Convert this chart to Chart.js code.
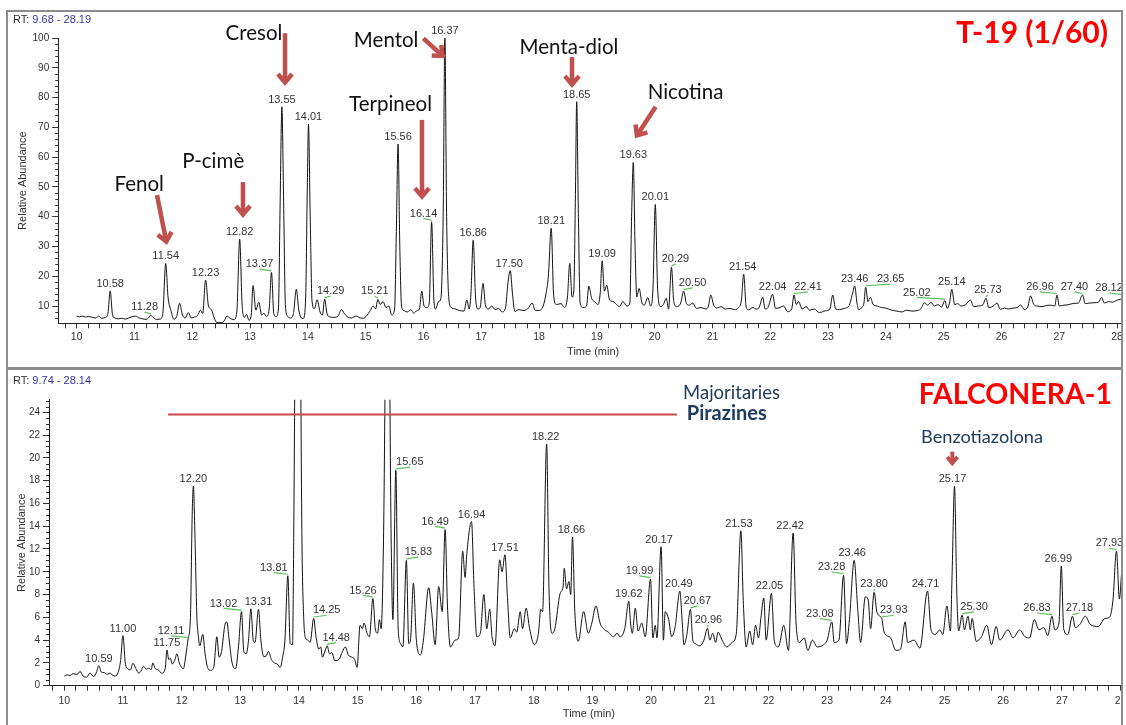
<!DOCTYPE html>
<html>
<head>
<meta charset="utf-8">
<title>T-19 (1/60) / FALCONERA-1</title>
<script src="https://cdn.jsdelivr.net/npm/chart.js@4.4.1/dist/chart.umd.min.js"></script>
<style>
  html, body { margin: 0; padding: 0; background: #fff; }
  #page { position: relative; width: 1126px; height: 725px; overflow: hidden; }
  #clip { position: absolute; left: 0; top: 0; width: 1121px; height: 725px; overflow: hidden; }
  canvas { position: absolute; left: 0; }
  .panel { position: absolute; box-sizing: border-box; border: 2px solid #8c8c8c; pointer-events: none; }
</style>
</head>
<body>
<div id="page">
  <div id="clip">
    <canvas id="t19" width="1140" height="368" style="top:0"></canvas>
    <canvas id="fal" width="1140" height="357" style="top:368px"></canvas>
  </div>
  <div class="panel" style="left:6px;top:10px;width:1117px;height:360px"></div>
  <div class="panel" style="left:6px;top:367px;width:1117px;height:380px"></div>
</div>
<script>
// ---------------- T-19 (1/60) chromatogram ----------------
const t19Time = [
 10.00,10.05,10.10,10.15,10.20,10.27,10.33,10.38,10.43,10.50,10.54,10.58,10.62,10.66,10.72,10.78,10.84,10.90,10.96,11.02,
 11.08,11.14,11.20,11.24,11.28,11.32,11.38,11.44,11.49,11.54,11.58,11.63,11.68,11.73,11.78,11.83,11.88,11.93,11.98,12.04,
 12.09,12.14,12.18,12.23,12.28,12.33,12.38,12.42,12.50,12.55,12.60,12.66,12.72,12.77,12.82,12.86,12.90,12.94,12.98,13.02,
 13.05,13.10,13.15,13.20,13.24,13.28,13.33,13.37,13.41,13.45,13.49,13.52,13.55,13.58,13.61,13.65,13.70,13.75,13.80,13.84,
 13.88,13.92,13.96,13.99,14.01,14.04,14.07,14.11,14.16,14.21,14.25,14.29,14.33,14.37,14.45,14.52,14.58,14.63,14.68,14.75,
 14.84,14.90,14.96,15.02,15.08,15.13,15.17,15.21,15.25,15.30,15.35,15.40,15.45,15.50,15.53,15.56,15.59,15.62,15.66,15.72,
 15.78,15.83,15.89,15.93,15.97,16.01,16.06,16.10,16.14,16.18,16.21,16.26,16.30,16.34,16.37,16.40,16.44,16.48,16.55,16.62,
 16.70,16.75,16.79,16.82,16.86,16.90,16.94,16.98,17.03,17.07,17.12,17.18,17.24,17.30,17.36,17.42,17.46,17.50,17.54,17.58,
 17.65,17.72,17.80,17.88,17.93,18.00,18.07,18.12,18.16,18.21,18.25,18.30,18.38,18.44,18.49,18.53,18.57,18.60,18.63,18.65,
 18.68,18.71,18.76,18.82,18.86,18.91,18.96,19.02,19.06,19.09,19.13,19.17,19.22,19.28,19.34,19.39,19.45,19.52,19.57,19.60,
 19.63,19.66,19.69,19.73,19.78,19.82,19.88,19.93,19.97,20.01,20.05,20.10,20.15,20.20,20.24,20.29,20.33,20.38,20.45,20.50,
 20.55,20.60,20.66,20.72,20.80,20.88,20.93,20.97,21.02,21.08,21.15,21.22,21.30,21.38,21.45,21.50,21.54,21.58,21.62,21.70,
 21.75,21.80,21.87,21.91,21.96,22.04,22.09,22.15,22.23,22.30,22.37,22.41,22.45,22.49,22.55,22.62,22.68,22.76,22.85,22.95,
 23.03,23.08,23.13,23.20,23.28,23.36,23.42,23.46,23.50,23.53,23.58,23.62,23.65,23.69,23.73,23.78,23.85,23.92,24.00,24.10,
 24.19,24.28,24.35,24.45,24.52,24.60,24.67,24.72,24.78,24.84,24.90,24.96,25.02,25.06,25.10,25.14,25.19,25.24,25.30,25.38,
 25.46,25.52,25.60,25.68,25.73,25.78,25.86,25.92,25.98,26.05,26.12,26.20,26.27,26.33,26.40,26.46,26.50,26.56,26.62,26.70,
 26.78,26.85,26.92,26.96,27.00,27.08,27.15,27.25,27.33,27.40,27.45,27.52,27.60,27.68,27.73,27.78,27.85,27.92,28.00,28.06,
 28.12,28.19
];
const t19Abund = [
 6.6,6.4,6.6,6.3,6.5,6.2,6.0,6.6,5.9,6.2,7.5,15.1,7.0,6.0,5.7,5.9,5.6,6.0,6.4,6.6,
 6.0,5.7,5.5,6.0,6.9,6.2,5.5,5.6,7.5,24.3,13.0,8.5,5.6,6.5,10.9,7.0,6.0,7.8,6.0,6.3,
 6.8,8.6,7.5,18.7,10.0,8.8,6.0,4.5,4.4,5.0,6.6,5.8,5.4,8.0,32.4,11.0,6.2,7.2,5.2,7.0,
 16.9,8.6,11.3,7.0,7.6,6.5,9.0,21.3,7.4,6.5,9.0,45,76.9,45,10.5,6.5,6.0,7.5,15.6,9.0,
 6.2,5.8,12,50,71.1,40,12,9.1,12.1,8.0,7.0,12.3,7.5,6.4,6.2,6.6,8.8,7.5,6.4,6.0,
 6.6,6.0,5.9,6.8,8.5,10.0,9.0,12.2,10.5,11.5,9.5,10.0,7.0,9.0,35,64.4,30,10,8.5,8.0,
 8.8,7.6,8.5,9.0,15.0,10.0,9.5,11,38.3,12,9.0,11.5,12.5,40,100,40,12,9.5,9.0,8.5,
 8.3,12.0,9.0,14,32.1,13,9.0,9.5,17.6,10.5,9.0,10.0,8.8,9.2,8.0,9.5,17.6,21.9,14,8.2,
 8.8,8.5,9.0,11.0,8.6,8.5,10.0,14.2,20,36.1,14,10.5,10.8,9.5,13,24.3,13,15,50,78.6,
 40,11,9.5,10.0,16.7,12.5,11.5,10.5,15,25.2,15,17.0,12.0,11.5,10.5,9.8,11.5,10.0,11,40,
 58.2,30,13,15.9,11.0,10.3,12.8,10.0,16,44.1,16,9.8,10.5,12.6,9.0,23.0,11.5,9.8,11,15.0,
 10.8,10.3,11.0,9.2,9.5,9.0,10.0,13.7,10.3,9.3,9.8,9.0,9.2,8.8,9.5,12,20.7,10,8.7,9.5,
 9.0,9.3,12.9,9.0,9.5,13.9,9.2,9.4,10.0,8.1,9.0,13.7,10.5,11.5,9.0,9.8,8.6,9.0,7.8,8.4,
 9.0,13.7,9.0,8.8,9.2,10,14.0,16.7,11,8.7,9.5,11,16.3,11.5,12.9,10.5,10.0,9.5,9.3,8.6,
 8.3,8.0,8.6,8.3,8.4,9.0,11.1,10.3,11.2,10.0,10.5,9.6,11.8,9.2,11.0,15.6,10.5,10.8,10.0,10.5,
 12.0,9.8,10.0,10.5,12.6,9.5,10.0,11.0,8.9,9.3,9.0,9.3,9.5,10.3,8.8,10.0,13.4,10.5,10.0,9.8,
 10.2,10.3,10.0,13.7,10.0,10.3,10.4,10.9,11.0,13.7,10.8,11.0,11.1,11.3,12.9,11.0,11.5,11.3,12.0,12.3,
 13.3,13.0
];
const t19PeakRT    = [10.58,11.28,11.54,12.23,12.82,13.37,13.55,14.01,14.29,15.21,15.56,16.14,16.37,16.86,17.50,18.21,18.65,19.09,19.63,20.01,20.29,20.50,21.54,22.04,22.41,23.46,23.65,25.02,25.14,25.73,26.96,27.40,28.12];
const t19LabelNudge= [0,-6,0,0,0,-12,0,0,6,-3,0,-8,0,0,-1,0,0,0,0,0,4,9,-1,0,14,0,25,-28,0,2,-17,-8,-15];
const t19Leader    = [0,1,0,0,0,1,0,0,1,1,0,1,0,0,0,0,0,0,0,0,1,1,0,0,1,0,1,1,0,1,1,1,1];

// compound names with their arrows (retention time, abundance)
const t19Names     = ['Fenol','P-cimè','Cresol','Mentol','Terpineol','Menta-diol','Nicotina'];
const t19NameRT    = [11.081,12.363,13.067,15.354,15.430,18.517,20.533];
const t19NameAb    = [48.7,56.2,99.3,97.1,75.5,94.6,79.4];
const t19ArrowFrom = [[11.389,47.3],[12.877,51.6],[13.604,101.6],[15.997,99.9],[15.974,72.5],[18.569,93.6],[20.017,76.9]];
const t19ArrowTo   = [[11.562,30.5],[12.877,39.6],[13.604,83.9],[16.377,93.2],[15.974,45.6],[18.569,83.2],[19.659,66.3]];

// ---------------- FALCONERA-1 chromatogram ----------------
const falTime = [
 10.00,10.05,10.10,10.15,10.22,10.27,10.32,10.38,10.44,10.50,10.55,10.59,10.63,10.68,10.73,10.78,10.83,10.87,10.92,10.96,
 11.00,11.04,11.08,11.13,11.17,11.22,11.27,11.31,11.35,11.40,11.44,11.48,11.51,11.55,11.60,11.66,11.72,11.75,11.78,11.81,
 11.84,11.88,11.92,11.96,12.00,12.03,12.07,12.11,12.15,12.18,12.20,12.23,12.26,12.28,12.31,12.36,12.40,12.45,12.50,12.55,
 12.60,12.64,12.68,12.74,12.77,12.81,12.86,12.92,12.97,13.02,13.06,13.10,13.14,13.18,13.22,13.25,13.31,13.35,13.40,13.44,
 13.48,13.53,13.58,13.63,13.68,13.72,13.76,13.81,13.85,13.89,13.91,13.98,14.05,14.08,14.11,14.15,14.19,14.25,14.29,14.34,
 14.37,14.40,14.44,14.48,14.52,14.56,14.61,14.68,14.74,14.79,14.84,14.90,14.95,14.99,15.04,15.08,15.11,15.16,15.20,15.26,
 15.30,15.34,15.37,15.40,15.44,15.51,15.57,15.60,15.65,15.69,15.73,15.77,15.83,15.87,15.90,15.95,16.00,16.07,16.12,16.21,
 16.26,16.32,16.38,16.44,16.49,16.53,16.58,16.66,16.72,16.79,16.83,16.86,16.94,16.98,17.03,17.09,17.15,17.20,17.25,17.29,
 17.34,17.42,17.46,17.51,17.55,17.60,17.67,17.71,17.77,17.81,17.87,17.93,18.01,18.08,18.12,18.15,18.22,18.26,18.31,18.36,
 18.45,18.50,18.52,18.56,18.60,18.63,18.66,18.70,18.76,18.85,18.93,18.99,19.06,19.13,19.19,19.27,19.36,19.42,19.47,19.55,
 19.62,19.65,19.68,19.73,19.78,19.84,19.90,19.99,20.03,20.07,20.10,20.17,20.21,20.24,20.30,20.35,20.41,20.49,20.53,20.56,
 20.61,20.67,20.71,20.75,20.83,20.90,20.96,21.00,21.05,21.10,21.14,21.21,21.29,21.38,21.45,21.53,21.57,21.62,21.68,21.73,
 21.78,21.83,21.87,21.92,21.96,22.05,22.10,22.17,22.26,22.34,22.42,22.47,22.53,22.61,22.67,22.75,22.83,22.94,23.00,23.08,
 23.12,23.20,23.28,23.33,23.38,23.46,23.52,23.57,23.65,23.70,23.74,23.80,23.85,23.93,23.97,24.08,24.17,24.25,24.33,24.37,
 24.48,24.58,24.71,24.77,24.84,24.92,24.97,25.04,25.10,25.13,25.17,25.21,25.24,25.30,25.34,25.40,25.44,25.47,25.54,25.63,
 25.72,25.80,25.88,25.94,26.08,26.17,26.28,26.37,26.45,26.53,26.61,26.69,26.76,26.83,26.88,26.95,26.99,27.03,27.10,27.18,
 27.23,27.31,27.40,27.48,27.62,27.73,27.81,27.87,27.93,27.98,28.02,28.08,28.14
];
const falAbund = [
 0.85,0.95,0.90,1.05,1.00,1.25,0.85,0.75,1.10,0.80,1.20,1.76,1.20,1.15,1.00,1.10,0.90,0.85,1.20,2.20,
 4.40,2.00,1.50,1.40,1.97,1.50,1.10,1.30,1.70,1.45,1.55,1.40,2.00,1.50,1.40,1.10,1.50,3.14,2.30,2.40,
 1.90,2.20,2.80,2.00,1.60,1.50,2.60,4.10,6.0,15.0,17.5,12.5,6.0,4.6,3.5,4.5,2.8,1.5,1.35,1.7,
 4.3,2.5,3.0,5.4,5.6,4.0,2.0,1.5,3.5,6.5,3.0,2.8,4.0,6.75,4.0,3.8,6.7,4.0,2.55,2.6,
 3.0,2.3,2.0,1.9,1.6,2.5,4.0,9.65,3.7,3.6,13,62,13,6,4.2,4.0,3.8,5.9,4.3,3.2,
 3.4,2.5,3.0,3.5,2.8,2.9,2.2,2.3,3.0,3.4,2.7,2.5,2.3,1.6,5.3,5.0,5.5,4.6,4.3,7.65,
 5.0,4.6,5.8,5.0,12.8,45,13,5.8,18.9,5.0,3.7,3.4,11.0,3.7,4.0,9.0,4.0,2.7,4.0,8.6,
 6.5,3.6,8.7,6.5,13.7,7.0,3.4,4.0,4.2,11.8,9.5,11.6,14.4,9.0,4.3,4.6,8.0,5.0,6.7,4.3,
 3.5,11.05,10.0,11.5,8.0,4.2,5.0,4.7,6.5,5.0,6.8,5.0,3.6,4.6,6.7,6.5,21.2,8.5,4.6,5.0,
 8.1,8.7,10.3,8.5,9.15,8.0,13.05,6.5,3.9,6.5,4.6,5.5,7.0,5.5,5.0,4.7,4.3,4.6,4.3,5.0,
 7.4,5.5,4.6,6.8,4.8,5.5,4.3,9.35,4.2,5.3,4.2,12.2,4.0,6.5,5.8,4.3,5.2,8.3,5.6,3.6,
 4.5,6.7,4.0,3.7,3.5,4.0,5.05,4.0,4.6,3.8,4.7,4.0,3.4,3.8,4.5,13.6,7.5,3.4,4.8,3.6,
 5.3,4.2,5.9,7.7,4.0,8.1,3.9,3.4,5.3,3.1,13.4,5.5,3.8,4.2,3.1,4.0,3.4,3.6,4.0,5.6,
 3.8,4.0,9.7,3.7,5.8,11.0,6.8,3.8,7.8,7.5,5.0,8.2,6.4,5.9,4.7,4.2,3.1,3.2,5.6,3.8,
 4.0,3.3,8.3,4.9,4.5,4.9,4.5,7.0,4.8,10,17.5,8,4.8,6.2,4.9,6.1,4.9,5.9,3.9,4.3,
 5.3,3.6,5.2,4.0,4.9,4.2,4.9,4.3,4.2,5.8,4.9,5.1,4.4,6.1,4.9,5.5,10.5,5.0,4.5,6.1,
 5.1,5.4,6.1,5.4,5.2,5.9,6.0,7.5,11.8,7.6,10.0,11.0,9.5
];
const falPeakRT     = [10.59,11.00,11.75,12.11,12.20,13.02,13.31,13.81,14.25,14.48,15.26,15.65,15.83,16.49,16.94,17.51,18.22,18.66,19.62,19.99,20.17,20.49,20.67,20.96,21.53,22.05,22.42,23.08,23.28,23.46,23.80,23.93,24.71,25.17,25.30,26.83,26.99,27.18,27.93];
const falLabelNudge = [0,0,0,-17,0,-18,0,-14,13,9,-10,14,12,-10,0,0,-1,-1,0,-11,-2,-1,7,1,-2,-2,-3,-12,-12,-2,0,12,-2,-2,12,-15,-3,7,-7];
const falLeader     = [0,0,0,1,0,1,0,1,1,1,1,1,1,1,0,0,0,0,0,1,0,0,1,1,0,0,0,1,1,0,1,1,0,0,1,1,0,1,1];

// group marker, group names and the flagged compound
const falGroupLine  = [[11.77,23.8],[20.44,23.8]];
const falGroupNames = ['Majoritaries','Pirazines'];
const falGroupRT    = [20.545,20.608];
const falGroupAb    = [25.13,23.28];
const falFlagName   = 'Benzotiazolona';
const falFlagRT     = 25.639;
const falFlagAb     = 21.32;
const falFlagArrow  = [[25.133,20.55],[25.133,19.26]];

// ---------------- drawing ----------------
const NUM_FONT  = '"Liberation Sans", Arial, sans-serif';
const NOTE_FONT = 'Lato, "Open Sans", sans-serif';
const ARROW_RED = '#c0504d';
const NAVY      = '#1f3a60';
const TICK_GREY = '#333';

function vArrow(ctx, x1, y1, x2, y2, width, arm) {
  const a = Math.atan2(y2 - y1, x2 - x1);
  const ux = Math.cos(a), uy = Math.sin(a);
  const inset = width / (2 * Math.sin(0.7));
  const tx = x2 - ux * inset, ty = y2 - uy * inset;
  ctx.save();
  ctx.strokeStyle = ARROW_RED;
  ctx.lineWidth = width;
  ctx.lineCap = 'butt';
  ctx.lineJoin = 'miter';
  ctx.beginPath();
  ctx.moveTo(x1, y1);
  ctx.lineTo(tx - ux * 1.5, ty - uy * 1.5);
  ctx.stroke();
  ctx.beginPath();
  ctx.moveTo(tx - arm * Math.cos(a - 0.7), ty - arm * Math.sin(a - 0.7));
  ctx.lineTo(tx, ty);
  ctx.lineTo(tx - arm * Math.cos(a + 0.7), ty - arm * Math.sin(a + 0.7));
  ctx.stroke();
  ctx.restore();
}

function axisOverlay(opts) {
  return {
    id: 'axisOverlay',
    afterDraw(chart) {
      const { ctx, scales: { x, y } } = chart;
      ctx.save();
      // short intermediate ticks on the abundance axis
      ctx.strokeStyle = TICK_GREY;
      ctx.lineWidth = 1;
      const steps = Math.round((y.max - 0) / opts.minorStep);
      for (let k = 0; k <= steps; k++) {
        const v = k * opts.minorStep;
        if (v < y.min || v > y.max) continue;
        if (Math.abs(v / opts.majorStep - Math.round(v / opts.majorStep)) < 1e-6) continue;
        const py = Math.round(y.getPixelForValue(v)) + 0.5;
        ctx.beginPath();
        ctx.moveTo(x.left - 3, py);
        ctx.lineTo(x.left, py);
        ctx.stroke();
      }

      // RT window
      ctx.font = '11px ' + NUM_FONT;
      ctx.textAlign = 'left';
      ctx.textBaseline = 'alphabetic';
      ctx.fillStyle = '#333';
      ctx.fillText('RT:', 13, opts.rtBaseline);
      const w = ctx.measureText('RT: ').width;
      ctx.fillStyle = '#3535a8';
      ctx.fillText(x.min.toFixed(2) + ' - ' + x.max.toFixed(2), 13 + w, opts.rtBaseline);

      // peak retention-time labels
      ctx.font = '11px ' + NUM_FONT;
      ctx.textAlign = 'center';
      opts.peaks.forEach((rt, i) => {
        const k = opts.time.indexOf(rt);
        const ab = opts.abund[k];
        const px = x.getPixelForValue(rt);
        const py = y.getPixelForValue(Math.min(ab, y.max));
        const lx = px + opts.nudge[i];
        const lead = opts.leader[i] === 1;
        const base = py - (lead ? 5 : 4);
        ctx.fillStyle = '#333';
        ctx.fillText(rt.toFixed(2), lx, base);
        if (lead) {
          ctx.strokeStyle = '#5cc05c';
          ctx.lineWidth = 1.2;
          ctx.beginPath();
          ctx.moveTo(lx, base + 1.8);
          ctx.lineTo(px, py - 1.5);
          ctx.stroke();
        }
      });

      opts.extra(ctx, x, y);
      ctx.restore();
    }
  };
}

function baseOptions(cfg) {
  return {
    responsive: false,
    animation: false,
    devicePixelRatio: 1,
    events: [],
    layout: { padding: { left: 0, top: cfg.top, right: cfg.right, bottom: 0 } },
    plugins: { legend: { display: false }, tooltip: { enabled: false }, title: { display: false } },
    scales: {
      x: {
        type: 'linear',
        min: cfg.xmin,
        max: cfg.xmax,
        afterBuildTicks(scale) {
          const ticks = [];
          for (let k = Math.ceil(scale.min * 5 - 1e-9); k <= Math.floor(scale.max * 5 + 1e-9); k++) ticks.push({ value: k / 5 });
          scale.ticks = ticks;
        },
        afterFit(scale) { scale.height = cfg.xHeight; },
        grid: { drawOnChartArea: false, drawTicks: true, tickLength: 5, color: TICK_GREY, tickWidth: 1 },
        border: { display: true, color: '#222', width: 1 },
        ticks: {
          autoSkip: false, maxRotation: 0, minRotation: 0, padding: cfg.xTickPad,
          color: TICK_GREY, font: { family: NUM_FONT, size: 10.5 },
          callback(v) { return Math.abs(v - Math.round(v)) < 1e-6 ? String(Math.round(v)) : ''; }
        },
        title: { display: true, text: 'Time (min)', color: '#333', font: { family: NUM_FONT, size: 11 }, padding: { top: 0, bottom: cfg.xTitlePad } }
      },
      y: {
        type: 'linear',
        min: cfg.ymin,
        max: cfg.ymax,
        afterBuildTicks(scale) {
          scale.ticks = cfg.yTicks.map(v => ({ value: v }));
        },
        afterFit(scale) { scale.width = cfg.yWidth; },
        grid: { drawOnChartArea: false, drawTicks: true, tickLength: 6, color: TICK_GREY, tickWidth: 1 },
        border: { display: true, color: '#222', width: 1 },
        ticks: { padding: 3, color: TICK_GREY, font: { family: NUM_FONT, size: 10 }, callback(v) { return String(v); } },
        title: { display: true, text: 'Relative Abundance', color: '#333', font: { family: NUM_FONT, size: 11 }, padding: { top: cfg.yTitlePad, bottom: 0 } }
      }
    }
  };
}

function trace(time, abund) {
  return {
    datasets: [{
      data: time.map((t, i) => ({ x: t, y: abund[i] })),
      borderColor: '#111',
      borderWidth: 1,
      pointRadius: 0,
      cubicInterpolationMode: 'monotone',
      fill: false
    }]
  };
}

// upper panel
new Chart(document.getElementById('t19'), {
  type: 'line',
  data: trace(t19Time, t19Abund),
  options: baseOptions({
    top: 38, right: 11.9, xmin: 9.68, xmax: 28.19, ymin: 4.2, ymax: 100,
    xHeight: 44.7, yWidth: 58.2, xTickPad: 3, xTitlePad: 9, yTitlePad: 16,
    yTicks: [10, 20, 30, 40, 50, 60, 70, 80, 90, 100]
  }),
  plugins: [axisOverlay({
    time: t19Time, abund: t19Abund, peaks: t19PeakRT, nudge: t19LabelNudge, leader: t19Leader,
    minorStep: 2, majorStep: 10, rtBaseline: 22.7,
    extra(ctx, x, y) {
      ctx.font = '20.5px ' + NOTE_FONT;
      ctx.fillStyle = '#111';
      ctx.textAlign = 'center';
      ctx.textBaseline = 'alphabetic';
      t19Names.forEach((n, i) => ctx.fillText(n, x.getPixelForValue(t19NameRT[i]), y.getPixelForValue(t19NameAb[i])));
      t19ArrowFrom.forEach((f, i) => {
        const to = t19ArrowTo[i];
        vArrow(ctx, x.getPixelForValue(f[0]), y.getPixelForValue(f[1]), x.getPixelForValue(to[0]), y.getPixelForValue(to[1]), 4.5, 11);
      });
      ctx.font = 'bold 30px ' + NOTE_FONT;
      ctx.fillStyle = '#ff0000';
      ctx.textAlign = 'right';
      ctx.fillText('T-19 (1/60)', 1108, 43.3);
    }
  })]
});

// lower panel
new Chart(document.getElementById('fal'), {
  type: 'line',
  data: trace(falTime, falAbund),
  options: baseOptions({
    top: 31.7, right: 11.2, xmin: 9.74, xmax: 28.14, ymin: 0, ymax: 25.1,
    xHeight: 39.3, yWidth: 49, xTickPad: 4, xTitlePad: 4.4, yTitlePad: 15,
    yTicks: [0, 2, 4, 6, 8, 10, 12, 14, 16, 18, 20, 22, 24]
  }),
  plugins: [axisOverlay({
    time: falTime, abund: falAbund, peaks: falPeakRT, nudge: falLabelNudge, leader: falLeader,
    minorStep: 0.5, majorStep: 2, rtBaseline: 16.3,
    extra(ctx, x, y) {
      ctx.strokeStyle = '#c8474a';
      ctx.lineWidth = 2;
      ctx.beginPath();
      ctx.moveTo(x.getPixelForValue(falGroupLine[0][0]), y.getPixelForValue(falGroupLine[0][1]));
      ctx.lineTo(x.getPixelForValue(falGroupLine[1][0]), y.getPixelForValue(falGroupLine[1][1]));
      ctx.stroke();

      ctx.fillStyle = NAVY;
      ctx.textAlign = 'left';
      ctx.textBaseline = 'alphabetic';
      ctx.font = '18.5px ' + NOTE_FONT;
      ctx.fillText(falGroupNames[0], x.getPixelForValue(falGroupRT[0]), y.getPixelForValue(falGroupAb[0]));
      ctx.font = 'bold 20px ' + NOTE_FONT;
      ctx.fillText(falGroupNames[1], x.getPixelForValue(falGroupRT[1]), y.getPixelForValue(falGroupAb[1]));

      ctx.font = '18.2px ' + NOTE_FONT;
      ctx.textAlign = 'center';
      ctx.fillText(falFlagName, x.getPixelForValue(falFlagRT), y.getPixelForValue(falFlagAb));
      const a = falFlagArrow;
      vArrow(ctx, x.getPixelForValue(a[0][0]), y.getPixelForValue(a[0][1]), x.getPixelForValue(a[1][0]), y.getPixelForValue(a[1][1]), 4, 8);

      ctx.font = 'bold 28.5px ' + NOTE_FONT;
      ctx.fillStyle = '#ff0000';
      ctx.textAlign = 'right';
      ctx.fillText('FALCONERA-1', 1112, 36.3);
    }
  })]
});
</script>
</body>
</html>
